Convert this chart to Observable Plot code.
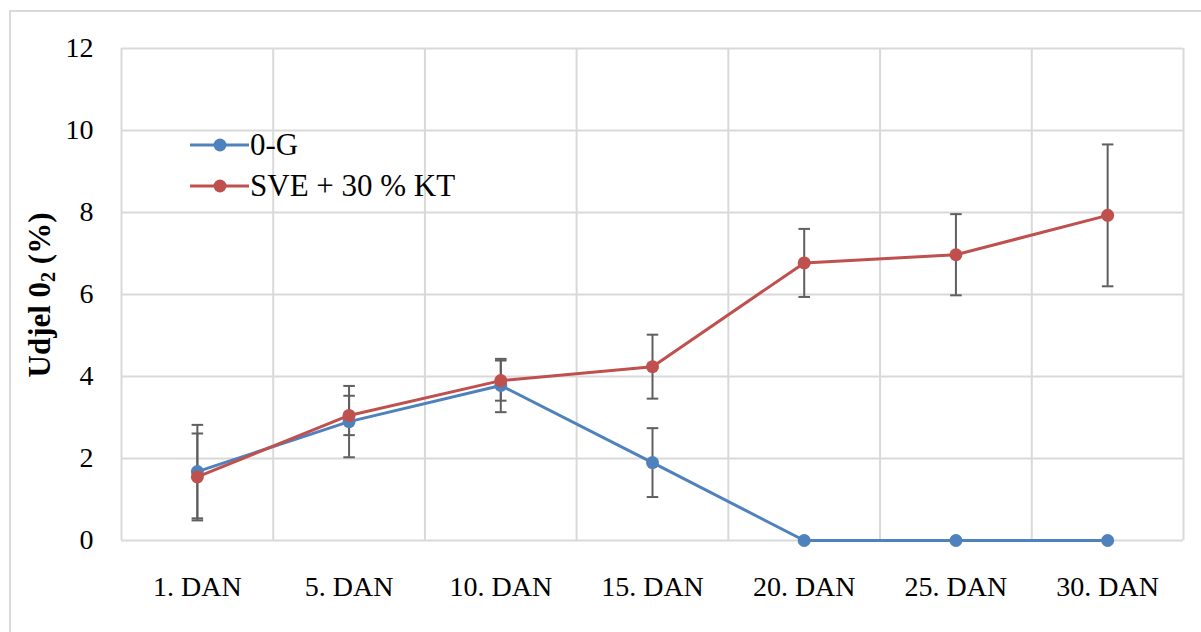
<!DOCTYPE html>
<html>
<head>
<meta charset="utf-8">
<script src="https://cdn.jsdelivr.net/npm/d3@7"></script>
<script src="https://cdn.jsdelivr.net/npm/@observablehq/plot@0.6"></script>
<style>
  html, body { margin: 0; padding: 0; background: #fff; }
  #wrap { position: relative; width: 1201px; height: 632px; overflow: hidden; font-family: "Liberation Serif", "Times New Roman", serif; }
  #frame { position: absolute; left: 9px; top: 10px; width: 1200px; height: 640px; border: 2px solid #d9d9d9; box-sizing: border-box; pointer-events: none; }
  #ytitle { position: absolute; left: 40px; top: 295px; transform: translate(-50%, -50%) rotate(-90deg); white-space: nowrap; font-weight: bold; font-size: 31px; color: #000; }
  #ytitle sub { font-size: 20px; vertical-align: -5px; line-height: 0; }
  #legend { position: absolute; left: 190px; top: 124px; font-size: 31px; color: #000; }
  .item { display: flex; align-items: center; height: 41px; }
  .item svg { margin-right: 1px; }
</style>
</head>
<body>
<div id="wrap">
  <div id="chart"></div>
  <div id="frame"></div>
  <div id="ytitle">Udjel 0<sub>2</sub> (%)</div>
  <div id="legend"></div>
</div>
<script>
// Data
const categories = ["1. DAN", "5. DAN", "10. DAN", "15. DAN", "20. DAN", "25. DAN", "30. DAN"];
const seriesNames = ["0-G", "SVE + 30 % KT"];
const values0G = [1.68, 2.90, 3.78, 1.90, 0, 0, 0];
const err0G = [1.14, 0.87, 0.65, 0.84, 0, 0, 0];
const valuesSVE = [1.55, 3.05, 3.90, 4.24, 6.77, 6.97, 7.93];
const errSVE = [1.06, 0.48, 0.49, 0.78, 0.83, 0.99, 1.73];
const yTicks = [0, 2, 4, 6, 8, 10, 12];
const colors = ["#4F81BD", "#C0504D"];

const rows = [];
[[values0G, err0G], [valuesSVE, errSVE]].forEach(([vals, errs], s) => {
  vals.forEach((v, i) => rows.push({series: seriesNames[s], i, cat: categories[i], v, e: errs[i]}));
});
const errRows = rows.filter(d => d.e > 0);
const gridX = d3.range(categories.length + 1).map(k => k - 0.5);

const capSymbol = { draw(ctx, size) { const w = Math.sqrt(size) / 2; ctx.moveTo(-w, 0); ctx.lineTo(w, 0); } };

const marks = [
  Plot.gridY(yTicks, {stroke: "#d9d9d9", strokeOpacity: 1, strokeWidth: 2}),
  Plot.gridX(gridX, {stroke: "#d9d9d9", strokeOpacity: 1, strokeWidth: 2}),
  Plot.axisY(yTicks, {tickSize: 0, tickPadding: 28, fontSize: 28, label: null}),
  Plot.axisX(d3.range(categories.length), {tickSize: 0, tickPadding: 36, fontSize: 28, label: null, tickFormat: i => categories[i]}),
  Plot.ruleX(errRows, {x: "i", y1: d => d.v - d.e, y2: d => d.v + d.e, stroke: "#5f5f5f", strokeWidth: 2}),
  Plot.dot(errRows, {x: "i", y: d => d.v - d.e, symbol: capSymbol, r: 6.5, stroke: "#5f5f5f", strokeWidth: 2, fill: "none"}),
  Plot.dot(errRows, {x: "i", y: d => d.v + d.e, symbol: capSymbol, r: 6.5, stroke: "#5f5f5f", strokeWidth: 2, fill: "none"})
];
seriesNames.forEach((name, s) => {
  const data = rows.filter(d => d.series === name);
  marks.push(Plot.line(data, {x: "i", y: "v", stroke: colors[s], strokeWidth: 3, curve: "linear"}));
  marks.push(Plot.dot(data, {x: "i", y: "v", fill: colors[s], r: 6.5, stroke: "none"}));
});

const chart = Plot.plot({
  width: 1201,
  height: 632,
  marginLeft: 121,
  marginRight: 18,
  marginTop: 48,
  marginBottom: 92,
  style: {fontFamily: "'Liberation Serif', 'Times New Roman', serif", color: "#000", background: "#fff"},
  x: {type: "linear", domain: [-0.5, categories.length - 0.5]},
  y: {domain: [0, 12]},
  marks
});
document.getElementById("chart").appendChild(chart);

// Legend
const legend = document.getElementById("legend");
seriesNames.forEach((name, s) => {
  const item = document.createElement("div");
  item.className = "item";
  item.innerHTML = `<svg width="59" height="16"><line x1="0" y1="8" x2="59" y2="8" stroke="${colors[s]}" stroke-width="3"/><circle cx="30" cy="8" r="6.5" fill="${colors[s]}"/></svg><span>${name}</span>`;
  legend.appendChild(item);
});
</script>
</body>
</html>
